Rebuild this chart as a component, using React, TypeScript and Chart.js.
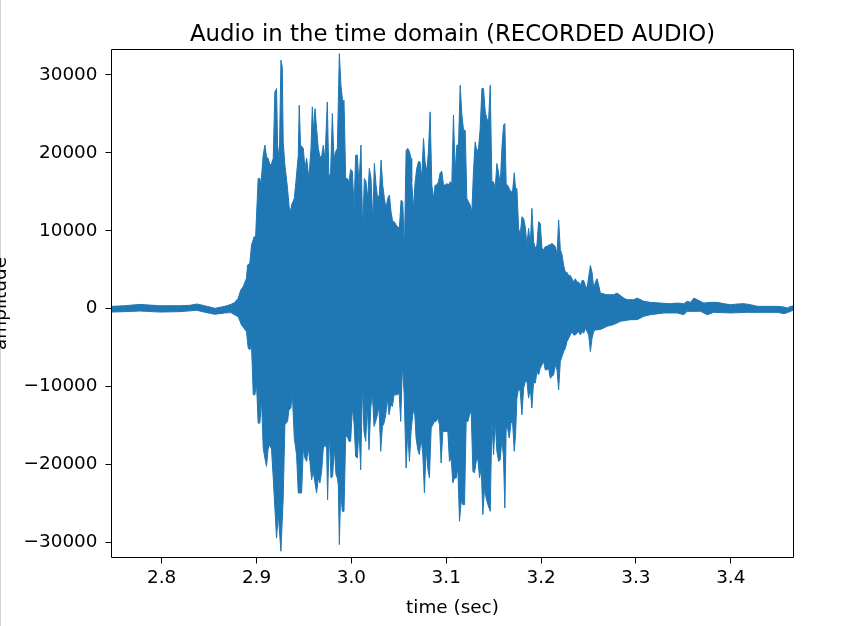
import React, { useEffect, useRef } from 'react';
import { Chart, registerables } from 'chart.js';

Chart.register(...registerables);

const titleText = 'Audio in the time domain (RECORDED AUDIO)';
const xLabel = 'time (sec)';
const yLabel = 'amplitude';

const xTicks = [2.8, 2.9, 3.0, 3.1, 3.2, 3.3, 3.4];
const yTicks = [-30000, -20000, -10000, 0, 10000, 20000, 30000];
const xRange = [2.7476, 3.4656];
const yRange = [-31870, 33200];

// upper envelope of the waveform (time in s, amplitude)
const upperTime = [
  2.7476, 2.7609, 2.7768, 2.7979, 2.819, 2.8296, 2.837, 2.8454, 2.856, 2.8665, 2.8729, 2.8771,
  2.8806, 2.8834, 2.8859, 2.8894, 2.8905, 2.8929, 2.8947, 2.8975, 2.899, 2.9017, 2.9035, 2.9046,
  2.907, 2.9088, 2.9105, 2.9123, 2.9141, 2.9158, 2.9176, 2.9193, 2.9211, 2.9222, 2.924, 2.9257,
  2.9271, 2.9281, 2.9299, 2.9327, 2.9345, 2.9352, 2.9369, 2.9398, 2.9415, 2.944, 2.945, 2.9464,
  2.9493, 2.951, 2.9528, 2.9552, 2.9574, 2.9588, 2.9602, 2.9616, 2.9633, 2.9651,
  2.9668, 2.9686, 2.9704, 2.9721, 2.9746, 2.9763, 2.9781, 2.9799, 2.9816, 2.9834, 2.9852, 2.9873,
  2.989, 2.9908, 2.9922, 2.994, 2.9957, 2.9975, 2.9992, 3.001, 3.0028, 3.0045, 3.0063, 3.008,
  3.0101, 3.0119, 3.0137, 3.0154, 3.0172, 3.0189, 3.0207, 3.0225, 3.0242, 3.026, 3.0277, 3.0295,
  3.0313, 3.033, 3.0348, 3.0365, 3.0383, 3.0401, 3.0418, 3.0436, 3.0453, 3.0471, 3.0489, 3.0506,
  3.0524, 3.0541, 3.0559,
  3.0577, 3.0594, 3.0612, 3.0629, 3.0636, 3.0654, 3.0672, 3.0689, 3.0707, 3.0724, 3.0742, 3.076,
  3.0777, 3.0795, 3.0812, 3.083, 3.0848, 3.0865, 3.0883, 3.09, 3.0918, 3.0936, 3.0953, 3.0971,
  3.0988, 3.1006, 3.1024, 3.1041, 3.1059, 3.1076, 3.1094, 3.1112, 3.1129, 3.1147, 3.1164, 3.1182,
  3.12, 3.1217, 3.1235, 3.1252, 3.127, 3.1288, 3.1305, 3.1323, 3.134, 3.1358, 3.1376, 3.1393,
  3.1411, 3.1428, 3.1446,
  3.1464, 3.1481, 3.1499, 3.1516, 3.1534, 3.1552, 3.1569, 3.1587, 3.1604, 3.1618, 3.1632, 3.1647,
  3.1664, 3.1682, 3.1699, 3.1717, 3.1731, 3.1745, 3.1763, 3.178, 3.1798, 3.1816, 3.1833, 3.1851,
  3.1868, 3.1886, 3.1903, 3.1921, 3.1939, 3.1956, 3.1974, 3.1991, 3.2009, 3.2027, 3.2044, 3.2062,
  3.2079, 3.2097, 3.2115, 3.2132, 3.215, 3.2168, 3.2185, 3.2203, 3.222, 3.2238, 3.2256, 3.2273,
  3.2291, 3.2308, 3.2326, 3.2344, 3.2361, 3.2379, 3.2396, 3.2414, 3.2432, 3.2449, 3.2467, 3.2485,
  3.2502, 3.252, 3.2537, 3.2555, 3.2573, 3.259, 3.2608,
  3.2625, 3.2696, 3.2766, 3.2801, 3.2872, 3.2907, 3.2977, 3.3012, 3.3083, 3.3153, 3.3259, 3.3364,
  3.3435, 3.3505, 3.354, 3.3576, 3.3611, 3.3646, 3.3716, 3.3787, 3.3857, 3.3928, 3.3998, 3.4068,
  3.4139, 3.4209, 3.428, 3.435, 3.442, 3.4491, 3.4561, 3.4596, 3.4632, 3.4667,
];
const upperAmp = [
  300, 380, 550, 380, 380, 430, 600, 380, 40, 300, 550, 800,
  1330, 2400, 2830, 3900, 5600, 5820, 8170, 9240, 9240, 16710, 16710, 15860,
  19700, 21000, 19490, 19280, 18420, 18630, 19280, 27820, 28250, 21000, 19000, 31880,
  31000, 21410, 18420, 15430, 12870, 11590, 13300, 14150, 16280, 19700, 26110, 21000,
  20580, 18000, 19280, 16710, 20580, 25900, 22690, 25690, 23120, 20580,
  19490, 19490, 21000, 19060, 26540, 16710, 17500, 25040, 19280, 20150, 20580, 32730,
  28670, 26540, 26750, 16710, 16710, 16280, 17870, 17650, 12870, 19700, 19700, 15860,
  21000, 9890, 16710, 16280, 14150, 18000, 16710, 11160, 18630, 15860, 14150, 14580,
  19060, 15860, 14150, 12870, 14150, 14580, 12440, 11160, 11160, 10740, 10520, 10310,
  13930, 13720, 7680,
  20300, 20580, 20150, 19280, 16280, 12870, 16280, 18000, 18850, 18850, 16710, 21840,
  18850, 17560, 20150, 25260, 15860, 14150, 15860, 15860, 16280, 17440, 17650, 15860,
  15860, 16070, 15860, 16280, 16070, 24840, 17650, 21000, 21000, 28670, 25040, 22900,
  22900, 14150, 13720, 13300, 12440, 17870, 21410, 20150, 20580, 23120, 28250, 28250,
  25260, 24400, 24000,
  28670, 16280, 16280, 15430, 18630, 17440, 15860, 20580, 23550, 23760, 15860, 15860,
  15430, 15000, 15000, 17440, 15430, 15430, 10310, 9460, 11800, 11590, 10520, 8160,
  10310, 8160, 12870, 8590, 7760, 8160, 11160, 10950, 7760, 7550, 7970, 7970,
  8180, 8180, 8390, 8180, 7970, 6960, 11400, 7550, 6960, 5550, 4670, 4670,
  4260, 4260, 3840, 3410, 3840, 3410, 3410, 2980, 3620, 3620, 2980, 2630,
  4100, 5550, 4670, 2630, 3410, 3840, 2980,
  2000, 1790, 1790, 2000, 1360, 1150, 1150, 1360, 940, 810, 720, 640,
  720, 640, 940, 810, 1360, 1150, 720, 810, 810, 640, 510, 600,
  640, 510, 300, 300, 300, 300, 210, 85, 300, 380,
];

// lower envelope of the waveform (time in s, amplitude)
const lowerTime = [
  2.7476, 2.7609, 2.7768, 2.7979, 2.819, 2.837, 2.8454, 2.856, 2.8665, 2.8729, 2.8771,
  2.8806, 2.8841, 2.8894, 2.8912, 2.8929, 2.8947, 2.8965, 2.8982, 2.9, 2.9017, 2.9035, 2.9053,
  2.907, 2.9088, 2.9105, 2.9123, 2.9141, 2.9158, 2.9176, 2.9193, 2.9211, 2.9229, 2.9257, 2.9281,
  2.9299, 2.9327, 2.9341, 2.9362, 2.9376, 2.9398, 2.9422, 2.944, 2.9457, 2.9475, 2.9493, 2.951,
  2.9528, 2.9545, 2.9563, 2.9581, 2.9598, 2.9616, 2.9633, 2.9651,
  2.9668, 2.9686, 2.9704, 2.9721, 2.9739, 2.9749, 2.9767, 2.9785, 2.9802, 2.982, 2.9838, 2.9852,
  2.9862, 2.9873, 2.9887, 2.9904, 2.9922, 2.994, 2.9957, 2.9975, 2.9992, 3.001, 3.0028, 3.0045,
  3.0063, 3.008, 3.0098, 3.0116, 3.0133, 3.0151, 3.0168, 3.0186, 3.0204, 3.0221, 3.0239, 3.0256,
  3.0274, 3.0291, 3.0309, 3.0327, 3.0344, 3.0362, 3.038, 3.0397, 3.0415, 3.0432, 3.045, 3.0467,
  3.0485, 3.0503, 3.052, 3.0538, 3.0556,
  3.0577, 3.0594, 3.0612, 3.0629, 3.0647, 3.0665, 3.0682, 3.07, 3.0717, 3.0735, 3.0753, 3.077,
  3.0788, 3.0805, 3.0823, 3.0841, 3.0858, 3.0876, 3.0893, 3.0911, 3.0929, 3.0946, 3.0964, 3.0981,
  3.0999, 3.1017, 3.1034, 3.1052, 3.1069, 3.1087, 3.1105, 3.1122, 3.114, 3.1157, 3.1175, 3.1193,
  3.121, 3.1228, 3.1245, 3.1263, 3.1281, 3.1298, 3.1316, 3.1333, 3.1351, 3.1369, 3.1386, 3.1404,
  3.1421, 3.1439,
  3.1464, 3.1481, 3.1499, 3.1516, 3.1534, 3.1552, 3.1569, 3.1587, 3.1604, 3.1618, 3.1632, 3.1647,
  3.1664, 3.1682, 3.1699, 3.1717, 3.1731, 3.1745, 3.1763, 3.178, 3.1798, 3.1816, 3.1833, 3.1851,
  3.1868, 3.1886, 3.1903, 3.1921, 3.1939, 3.1956, 3.1974, 3.1991, 3.2009, 3.2027, 3.2044, 3.2062,
  3.2079, 3.2097, 3.2115, 3.2132, 3.215, 3.2168, 3.2185, 3.2203, 3.222, 3.2238, 3.2256, 3.2273,
  3.2291, 3.2308, 3.2326, 3.2344, 3.2361, 3.2379, 3.2396, 3.2414, 3.2432, 3.2449, 3.2467, 3.2485,
  3.2502, 3.252, 3.2537, 3.2555, 3.2573,
  3.2625, 3.2696, 3.2766, 3.2837, 3.2942, 3.3012, 3.3083, 3.3153, 3.3294, 3.3435, 3.3505, 3.354,
  3.3681, 3.3752, 3.3822, 3.3998, 3.4174, 3.435, 3.4491, 3.4561, 3.4632, 3.4667,
];
const lowerAmp = [
  -430, -380, -300, -430, -380, -210, -450, -720, -550, -500, -800,
  -1020, -2080, -2940, -5070, -5290, -4650, -11060, -11060, -9770, -14690, -14690, -11700,
  -17890, -19170, -20240, -17890, -17460, -18100, -21730, -25580, -29420, -26430, -31130, -24300,
  -14900, -14480, -12980, -12770, -10630, -16610, -18740, -23650, -23650, -23650, -17890, -19170,
  -19600, -17890, -19600, -21950, -20880, -22360, -23650, -21730,
  -22360, -20880, -17890, -17460, -17890, -24510, -15970, -21730, -21520, -17890, -21310, -21730,
  -22590, -30280, -23230, -26010, -26010, -16390, -16390, -17030, -17030, -12760, -14690, -18960,
  -19170, -15320, -20670, -9770, -15750, -17030, -12330, -18100, -12760, -10840, -15110, -14470,
  -13620, -12550, -18310, -15110, -14690, -13620, -11480, -13620, -12330, -12550, -11060, -11060,
  -11060, -10840, -14470, -7210, -10840,
  -20450, -15750, -19600, -15750, -13620, -12760, -16600, -18100, -18740, -16600, -18740, -23650,
  -17890, -20450, -21730, -15320, -14900, -14470, -14470, -14050, -14900, -19810, -15750, -15750,
  -15750, -15750, -19600, -19170, -22360, -21730, -21730, -20450, -27280, -24720, -25150, -25150,
  -14470, -14470, -13620, -13190, -20880, -21090, -19600, -19170, -21730, -20450, -26430, -23010,
  -24300, -25150,
  -26010, -14470, -18740, -14470, -18310, -19600, -19380, -16600, -19170, -25580, -15320, -15320,
  -16600, -14690, -14470, -18310, -16180, -11480, -10200, -10630, -13620, -10200, -9350, -9350,
  -11480, -10200, -12760, -9350, -9560, -8070, -8490, -7640, -7210, -6780, -7850, -7850,
  -7640, -8920, -8710, -8490, -7210, -7850, -10410, -6780, -6140, -5500, -5070, -4220,
  -3790, -3370, -2940, -3370, -3370, -3150, -2940, -3370, -2940, -3150, -2510, -2940,
  -3370, -5500, -3790, -2940, -2730,
  -2680, -2260, -2040, -1620, -1410, -1410, -980, -770, -550, -550, -770, -340,
  -340, -770, -470, -550, -470, -470, -470, -640, -340, -130,
];

const FONT = 'DejaVu Sans';
const BLUE = '#1f77b4';

const fmtY = (v: number) => (v < 0 ? '\u2212' + Math.abs(v) : String(v));

const framePlugin = {
  id: 'frame',
  beforeDraw(chart: any) {
    const { ctx, height } = chart;
    ctx.save();
    ctx.fillStyle = '#d4d4d4';
    ctx.fillRect(0, 0, 1, height);
    ctx.restore();
  },
  afterDraw(chart: any) {
    const { ctx, chartArea } = chart;
    const { left, top, right, bottom } = chartArea;
    ctx.save();
    ctx.strokeStyle = '#000';
    ctx.lineWidth = 1;
    ctx.beginPath();
    ctx.rect(left - 0.5, top - 0.5, right - left + 1, bottom - top + 1);
    ctx.stroke();

    // title centred over the axes
    ctx.font = `22.8px "${FONT}"`;
    ctx.fillStyle = '#000';
    ctx.textAlign = 'center';
    ctx.textBaseline = 'alphabetic';
    ctx.fillText(titleText, (left + right) / 2, 40.5);

    // y-axis label (partly off the left edge, as in the reference)
    ctx.translate(6, (top + bottom) / 2);
    ctx.rotate(-Math.PI / 2);
    ctx.font = `18.4px "${FONT}"`;
    ctx.fillText(yLabel, 0, 0);
    ctx.restore();
  },
};

export default function App() {
  const ref = useRef<HTMLCanvasElement | null>(null);

  useEffect(() => {
    document.body.style.margin = '0';
    const canvas = ref.current;
    if (!canvas) return;

    const polygon = [
      ...upperTime.map((t, i) => ({ x: t, y: upperAmp[i] })),
      ...lowerTime.map((t, i) => ({ x: t, y: lowerAmp[i] })).reverse(),
    ];

    const tickFont = { family: FONT, size: 18.4 };

    const chart = new Chart(canvas, {
      type: 'line',
      data: {
        datasets: [
          {
            data: polygon,
            borderColor: BLUE,
            backgroundColor: BLUE,
            borderWidth: 1,
            fill: 'shape',
            pointRadius: 0,
            tension: 0,
            borderJoinStyle: 'round',
            borderCapStyle: 'round',
          } as any,
        ],
      },
      options: {
        responsive: false,
        animation: false,
        devicePixelRatio: 1,
        layout: { padding: { left: 0, right: 62, top: 50, bottom: 0 } },
        plugins: {
          legend: { display: false },
          tooltip: { enabled: false },
          title: { display: false },
        },
        scales: {
          x: {
            type: 'linear',
            min: xRange[0],
            max: xRange[1],
            afterFit: (s: any) => {
              s.height = 69;
            },
            afterBuildTicks: (s: any) => {
              s.ticks = xTicks.map((v) => ({ value: v }));
            },
            ticks: {
              autoSkip: false,
              maxRotation: 0,
              color: '#000',
              font: tickFont,
              padding: 3.7,
              callback: (v: any) => Number(v).toFixed(1),
            },
            grid: {
              display: true,
              drawOnChartArea: false,
              drawTicks: true,
              tickLength: 6.5,
              tickWidth: 1,
              tickColor: '#000',
            },
            border: { display: false },
            title: {
              display: true,
              text: xLabel,
              color: '#000',
              font: tickFont,
              padding: { top: 0, bottom: 7 },
            },
          },
          y: {
            type: 'linear',
            min: yRange[0],
            max: yRange[1],
            afterFit: (s: any) => {
              s.width = 112;
            },
            afterBuildTicks: (s: any) => {
              s.ticks = yTicks.map((v) => ({ value: v }));
            },
            ticks: {
              autoSkip: false,
              color: '#000',
              font: tickFont,
              padding: 8,
              callback: (v: any) => fmtY(Number(v)),
            },
            grid: {
              display: true,
              drawOnChartArea: false,
              drawTicks: true,
              tickLength: 6.5,
              tickWidth: 1,
              tickColor: '#000',
            },
            border: { display: false },
          },
        },
      } as any,
      plugins: [framePlugin],
    });

    return () => chart.destroy();
  }, []);

  return (
    <div style={{ width: 855, height: 626, position: 'relative', background: '#fff' }}>
      <canvas ref={ref} width={855} height={626} style={{ display: 'block' }} />
    </div>
  );
}
